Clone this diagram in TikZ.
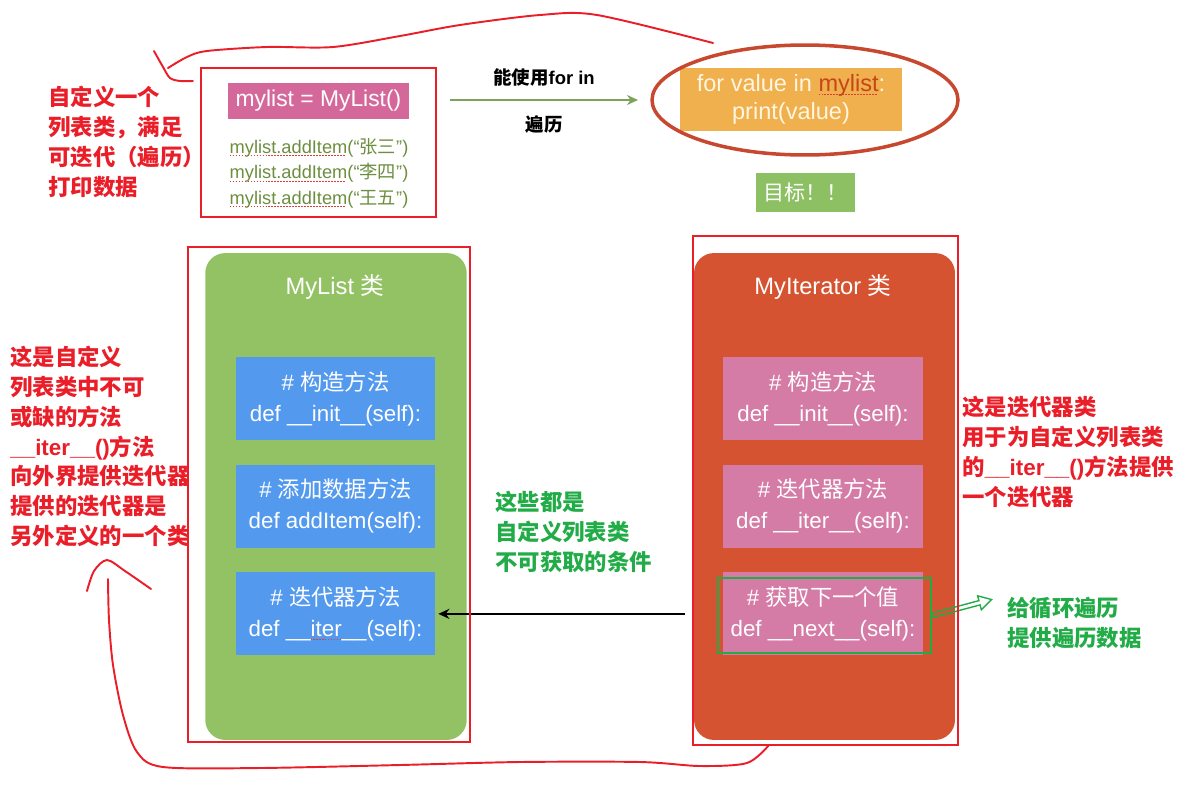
\documentclass[tikz,border=0pt]{standalone}
\usepackage{fontspec}
\setmainfont{Liberation Sans}
\newfontfamily\zhfont{Noto Sans CJK SC}
\usetikzlibrary{arrows.meta,positioning,calc,shapes.geometric,shapes.arrows}
\definecolor{noteRed}{RGB}{234,30,40}
\definecolor{hintGreen}{RGB}{34,172,72}
\definecolor{pinkBox}{RGB}{213,104,154}
\definecolor{oliveTxt}{RGB}{108,142,62}
\definecolor{squigRed}{RGB}{220,60,60}
\definecolor{codeOrange}{RGB}{240,176,77}
\definecolor{codeTxt}{RGB}{255,245,225}
\definecolor{mylistRed}{RGB}{196,70,27}
\definecolor{ringRed}{RGB}{200,71,47}
\definecolor{goalGreen}{RGB}{140,192,99}
\definecolor{arrowGreen}{RGB}{124,163,90}
\definecolor{clsGreen}{RGB}{147,194,100}
\definecolor{clsOrange}{RGB}{214,83,49}
\definecolor{methBlue}{RGB}{83,153,238}
\definecolor{methPink}{RGB}{212,123,166}
\newcommand{\zh}[1]{{\zhfont #1}}
\newcommand{\lat}[1]{{\rmfamily #1}}
\newsavebox{\ulbox}
\newcommand{\redul}[1]{\sbox{\ulbox}{#1}\rlap{\color{squigRed}\leaders\hbox{\rule[-0.3ex]{1pt}{0.55pt}\kern0.7pt}\hskip\wd\ulbox}\usebox{\ulbox}}

\begin{document}
\begin{tikzpicture}[
  x=0.02cm, y=-0.02cm,
  note/.style={anchor=west, align=left, inner sep=0pt, text=noteRed, font=\fontsize{12.75}{17}\zhfont\bfseries},
  hint/.style={note, text=hintGreen},
  frame/.style={draw=noteRed, line width=1.1pt, inner sep=0pt},
  cls/.style={rounded corners=0.4cm, minimum width=5.23cm, minimum height=9.74cm, inner sep=0pt},
  meth/.style={minimum width=3.98cm, minimum height=1.66cm, inner sep=0pt, align=center, text=white, font=\fontsize{12.7}{17.6}\selectfont},
  ctitle/.style={text=white, inner sep=0pt, font=\fontsize{13.5}{15}\selectfont},
  hand/.style={draw=noteRed, line width=1.1pt, line cap=round, line join=round},
  arrow/.style={-{Stealth[length=2.2mm, width=2mm]}, line width=1.1pt}
]
\useasboundingbox (0,0) rectangle (1179,791);

\node[fill=pinkBox, text=white, minimum width=3.62cm, minimum height=0.72cm, inner sep=0pt, font=\fontsize{13}{15}\selectfont] (newList) at (318.5,101) {mylist = MyList()};
\node[inner sep=0pt, align=center, text=oliveTxt, font=\fontsize{10.4}{14.5}\selectfont] (addLines) at (319,173)
  {\redul{mylist.addItem}(“\zh{张三}”)\\\redul{mylist.addItem}(“\zh{李四}”)\\\redul{mylist.addItem}(“\zh{王五}”)};
\node[frame, minimum width=4.7cm, minimum height=2.98cm] (useBox) at (318.5,142.5) {};
\node[note] (useNote) at (48,142) {自定义一个\\列表类，满足\\可迭代（遍历）\\打印数据};

\node[fill=codeOrange, minimum width=4.44cm, minimum height=1.26cm, inner sep=0pt, align=center, text=codeTxt, font=\fontsize{13.4}{15.9}\selectfont] (forCode) at (791,99.5)
  {for value in \textcolor{mylistRed}{\redul{mylist}}:\\print(value)};
\node[ellipse, draw=ringRed, line width=2pt, minimum width=6.12cm, minimum height=2.2cm] (goalRing) at (805,100) {};
\node[fill=goalGreen, text=white, minimum width=1.98cm, minimum height=0.78cm, inner sep=0pt, font=\fontsize{12}{14}\zhfont] (goal) at (805.5,192.5) {目标！！};

\coordinate (forS) at (450,100);
\coordinate (forE) at (638,100);
\draw[arrow, draw=arrowGreen, line width=0.9pt] (forS) --
  node[above=0.26cm, inner sep=0pt, font=\fontsize{10.5}{12}\bfseries] (forLbl) {\zh{能使用}for in}
  node[below=0.3cm, inner sep=0pt, font=\fontsize{10.5}{12}\zhfont\bfseries] (forLbl2) {遍历} (forE);

\node[cls, fill=clsGreen] (lsCls) at (336,496.5) {};
\node[ctitle] (lsTitle) at (335,287) {MyList \zh{类}};
\node[meth, fill=methBlue] (lsInit) at (335.5,398.5) {\# \zh{构造方法}\\def \_\_init\_\_(self):};
\node[meth, fill=methBlue, below=0.48cm of lsInit] (lsAdd) {\# \zh{添加数据方法}\\def addItem(self):};
\node[meth, fill=methBlue, below=0.48cm of lsAdd] (lsIter) {\# \zh{迭代器方法}\\def \redul{\_\_iter\_\_}(self):};

\node[cls, fill=clsOrange, minimum width=5.22cm] (itCls) at (824.5,496.5) {};
\node[ctitle] (itTitle) at (823,287) {MyIterator \zh{类}};
\node[meth, fill=methPink, minimum width=4cm] (itInit) at (823,398.5) {\# \zh{构造方法}\\def \_\_init\_\_(self):};
\node[meth, fill=methPink, minimum width=4cm, below=0.48cm of itInit] (itIter) {\# \zh{迭代器方法}\\def \_\_iter\_\_(self):};
\node[meth, fill=methPink, minimum width=4cm, below=0.48cm of itIter] (itNext) {\# \zh{获取下一个值}\\def \_\_next\_\_(self):};
\node[draw=hintGreen, line width=1.1pt, minimum width=4.26cm, minimum height=1.5cm, inner sep=0pt] (nextMark) at (824.5,615.5) {};
\node[single arrow, draw=hintGreen, line width=0.8pt, inner sep=0.03cm, minimum height=1.22cm,
  single arrow head extend=0.1cm, single arrow tip angle=60, rotate=15, anchor=tail] (nextArrow) at (nextMark.east) {};

\draw[arrow] ($(itCls.west |- lsIter.east)+(-9,0)$) -- ([xshift=0.06cm]lsIter.east);

\node[frame, minimum width=5.64cm, minimum height=9.9cm] (lsFrame) at (329,494.5) {};
\node[frame, minimum width=5.3cm, minimum height=10.18cm] (itFrame) at (825.5,490.5) {};

\node[note] (defNote) at (10,446.5) {这是自定义\\列表类中不可\\或缺的方法\\\lat{\_\_iter\_\_()}方法\\向外界提供迭代器\\提供的迭代器是\\另外定义的一个类};
\node[note] (itNote) at (962,452) {这是迭代器类\\用于为自定义列表类\\的\lat{\_\_iter\_\_()}方法提供\\一个迭代器};
\node[hint] (condNote) at (495,532) {这些都是\\自定义列表类\\不可获取的条件};
\node[hint] (nextNote) at (1007,623) {给循环遍历\\提供遍历数据};

\draw[hand] plot[smooth, tension=0.5] coordinates {(154,51) (163,67) (170,78) (180,81) (193,81)};
\draw[hand] plot[smooth] coordinates {(168,68) (187,57) (207,51) (267,47) (333,47) (400,36) (460,25) (540,15) (597,15) (713,43)};
\draw[hand] plot[smooth, tension=0.5] coordinates {(87,591) (94,571) (107,560) (125,571) (151,589)};
\draw[hand] plot[smooth] coordinates {(108,579) (109,620) (113,665) (123,715) (137,752) (163,767) (260,768) (400,765) (520,762) (640,762) (700,766) (747,763) (769,745)};
\end{tikzpicture}
\end{document}
